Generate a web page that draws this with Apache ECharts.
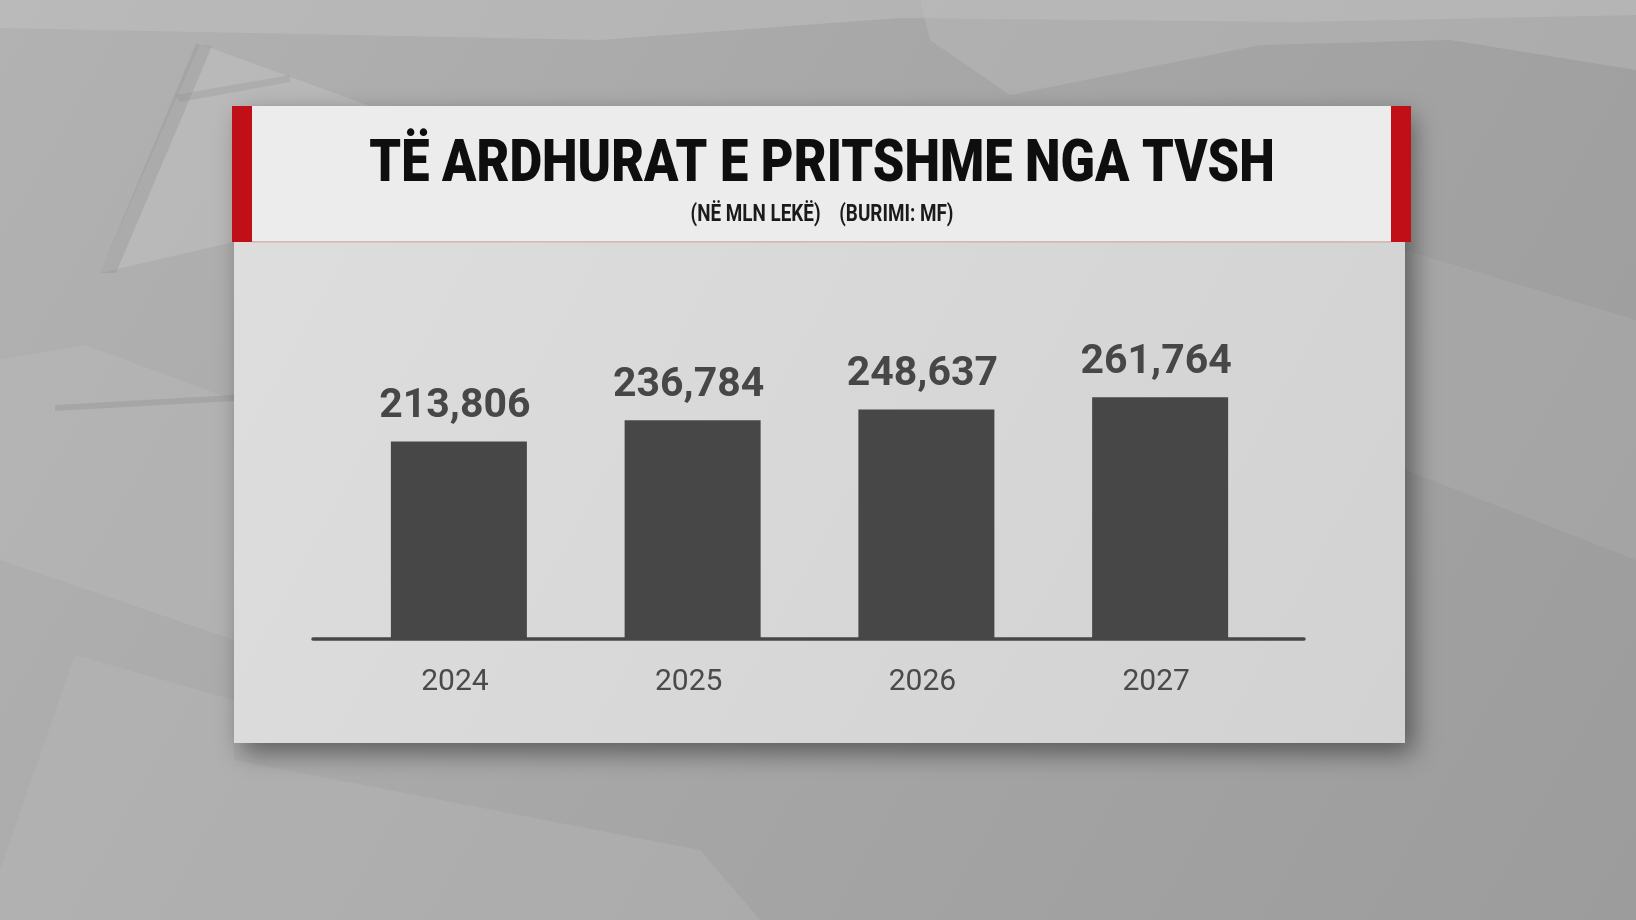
<!DOCTYPE html>
<html>
<head>
<meta charset="utf-8">
<script src="https://cdn.jsdelivr.net/npm/echarts@6/dist/echarts.min.js"></script>
<style>
html,body{margin:0;padding:0;background:#a8a8a8;}
#c{width:1636px;height:920px;}
</style>
</head>
<body>
<div id="c"></div>
<script>
const titleText = 'TË ARDHURAT E PRITSHME NGA TVSH';
const subtitleText = '(NË MLN LEKË)    (BURIMI: MF)';
const categories = ['2024', '2025', '2026', '2027'];
const values = [213806, 236784, 248637, 261764];

const chart = echarts.init(document.getElementById('c'), null, {renderer: 'canvas'});
const F = "Roboto, 'Noto Sans', sans-serif";

function fmt(v){ return v.toLocaleString('en-US'); }

const bgShapes = [
  {type:'rect', z:-10, shape:{x:0,y:0,width:1636,height:920},
   style:{fill:{type:'linear',x:0,y:0,x2:1,y2:1,colorStops:[{offset:0,color:'#b2b2b2'},{offset:0.5,color:'#a6a6a6'},{offset:1,color:'#9c9c9c'}]}}},
  {type:'polygon', z:-9, shape:{points:[[0,0],[1636,0],[1636,15],[1300,22],[900,18],[600,40],[0,28]]}, style:{fill:'rgba(195,195,195,0.45)'}},
  {type:'polygon', z:-9, shape:{points:[[920,0],[1636,0],[1636,70],[1450,40],[1260,45],[1010,95],[930,40]]}, style:{fill:'rgba(190,190,190,0.4)'}},
  {type:'polygon', z:-9, shape:{points:[[200,44],[370,106],[234,106],[234,242],[100,273]]}, style:{fill:'rgba(200,200,200,0.4)'}},
  {type:'polygon', z:-8, shape:{points:[[196,44],[212,46],[116,273],[100,273]]}, style:{fill:'rgba(140,140,140,0.3)'}},
  {type:'polygon', z:-8, shape:{points:[[175,95],[290,75],[290,82],[180,102]]}, style:{fill:'rgba(140,140,140,0.25)'}},
  {type:'polygon', z:-9, shape:{points:[[0,360],[85,345],[234,400],[234,640],[0,560]]}, style:{fill:'rgba(190,190,190,0.35)'}},
  {type:'polygon', z:-8, shape:{points:[[55,405],[234,395],[234,401],[55,411]]}, style:{fill:'rgba(135,135,135,0.3)'}},
  {type:'polygon', z:-9, shape:{points:[[75,655],[234,700],[234,760],[700,850],[760,920],[0,920],[0,870]]}, style:{fill:'rgba(185,185,185,0.35)'}},
  {type:'polygon', z:-9, shape:{points:[[1405,250],[1636,320],[1636,560],[1405,470]]}, style:{fill:'rgba(185,185,185,0.25)'}}
];

const panel = [
  {type:'rect', z:1, shape:{x:234,y:106,width:1171,height:637},
   style:{fill:{type:'linear',x:0,y:0,x2:1,y2:1,colorStops:[{offset:0,color:'#dedede'},{offset:1,color:'#d2d2d2'}]},
          shadowBlur:24, shadowColor:'rgba(0,0,0,0.45)', shadowOffsetX:8, shadowOffsetY:10}},
  {type:'rect', z:2, shape:{x:232,y:106,width:1179,height:136}, style:{fill:'#ececec'}},
  {type:'rect', z:3, shape:{x:252,y:241,width:1139,height:1.5}, style:{fill:'rgba(200,150,150,0.6)'}},
  {type:'rect', z:3, shape:{x:232,y:106,width:20,height:136}, style:{fill:'#c00f16'}},
  {type:'rect', z:3, shape:{x:1391,y:106,width:20,height:136}, style:{fill:'#c00f16'}},
  {type:'text', z:4, x:822, y:166, scaleX:0.842, originX:0, originY:0,
   style:{text:titleText, font:"900 60px " + F, fill:'#0e0e0e', textAlign:'center', textVerticalAlign:'middle'}},
  {type:'text', z:4, x:822, y:215, scaleX:0.82, originX:0, originY:0,
   style:{text:subtitleText, font:"bold 23px " + F, fill:'#1a1a1a', textAlign:'center', textVerticalAlign:'middle'}},
  {type:'line', z:20, shape:{x1:313,y1:639,x2:1304,y2:639}, style:{stroke:'#474747', lineWidth:3.5, lineCap:'round'}}
];

chart.setOption({
  backgroundColor: 'transparent',
  animation: false,
  graphic: bgShapes.concat(panel),
  grid: {left:342, right:359, top:270, bottom:281.5},
  xAxis: {
    type:'category', data:categories, z:30,
    axisLine:{show:false}, axisTick:{show:false}, splitLine:{show:false},
    axisLabel:{color:'#4a4a4a', fontFamily:F, fontSize:30, margin:29, padding:[0,8,0,0]}
  },
  yAxis: {type:'value', min:0, max:400000, show:false},
  series: [{
    type:'bar', data:values, barWidth:136, z:10,
    itemStyle:{color:'#474747'},
    label:{show:true, position:'top', distance:14, offset:[-4,0], color:'#474747', fontFamily:F, fontWeight:'bold', fontSize:41,
      formatter: p => fmt(p.value)}
  }]
});
</script>
</body>
</html>
